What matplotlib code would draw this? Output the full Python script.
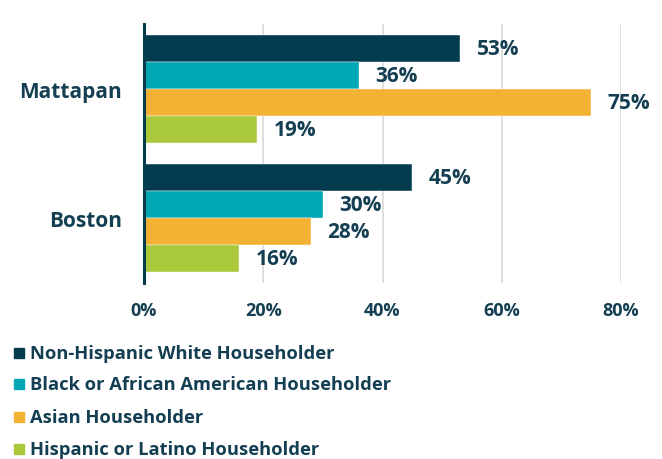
import matplotlib
matplotlib.use("Agg")
import matplotlib.pyplot as plt
from matplotlib.patches import Rectangle
import numpy as np

categories = ["Mattapan", "Boston"]
series_names = ["Non-Hispanic White Householder",
                "Black or African American Householder",
                "Asian Householder",
                "Hispanic or Latino Householder"]
values = {
    "Non-Hispanic White Householder": [53, 45],
    "Black or African American Householder": [36, 30],
    "Asian Householder": [75, 28],
    "Hispanic or Latino Householder": [19, 16],
}
colors = ["#033c4f", "#00a7b5", "#f3b233", "#a9c93b"]
xticks = [0, 20, 40, 60, 80]
xticklabels = ["0%", "20%", "40%", "60%", "80%"]

text_color = "#143f52"
plt.rcParams['font.family'] = ['Open Sans', 'DejaVu Sans']

fig = plt.figure(figsize=(6.62, 4.60), dpi=100)
ax = fig.add_axes([144/662, 176/460, 477/662, 259/460])

group_pos = np.array([1.0, 0.0])
bar_h = 0.209
for i, name in enumerate(series_names):
    offs = (1.5 - i) * bar_h
    ys = group_pos + offs
    vals = values[name]
    ax.barh(ys, vals, height=bar_h, color=colors[i], edgecolor="white", linewidth=0.3, zorder=3)
    for y, v in zip(ys, vals):
        ax.annotate(f"{v}%", xy=(v, y), xytext=(12, 0), textcoords="offset points",
                    ha="left", va="center", fontsize=15, fontweight="bold",
                    color=text_color, annotation_clip=False)

ax.set_xlim(0, 80)
ax.set_ylim(-0.5, 1.5)
ax.set_xticks(xticks)
ax.set_xticklabels(xticklabels)
ax.set_yticks(group_pos)
ax.set_yticklabels(categories)
for s in ["top", "right", "bottom"]:
    ax.spines[s].set_visible(False)
ax.spines["left"].set_color("#033c4f")
ax.spines["left"].set_linewidth(2.2)
ax.spines["left"].set_zorder(5)
ax.grid(axis="x", color="#d9d9d9", linewidth=1.2, zorder=0)
ax.tick_params(axis="x", length=0, pad=13, labelsize=13, labelcolor=text_color)
ax.tick_params(axis="y", length=0, pad=16, labelsize=15, labelcolor=text_color)
for lbl in ax.get_xticklabels() + ax.get_yticklabels():
    lbl.set_fontweight("bold")

# Legend
legend_y = [354, 385, 418, 450]
for name, c, y in zip(series_names, colors, legend_y):
    fig.patches.append(Rectangle((14/662, (460 - y - 5)/460), 10/662, 10/460,
                                 transform=fig.transFigure, color=c, figure=fig))
    fig.text(30/662, (460 - y)/460, name, ha="left", va="center", fontsize=13.2,
             fontweight="bold", color=text_color)

fig.savefig("out.png", dpi=100)
